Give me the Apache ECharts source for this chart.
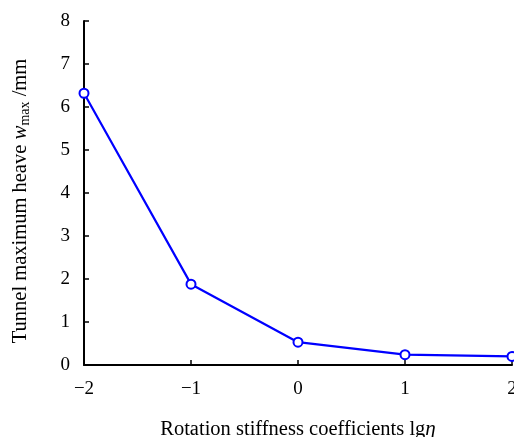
<!DOCTYPE html>
<html><head><meta charset="utf-8">
<script src="https://cdn.jsdelivr.net/npm/echarts@6/dist/echarts.min.js"></script>
<style>html,body{margin:0;padding:0;background:#fff}#c{width:514px;height:437px}</style>
</head><body><div id="c"></div>
<script>
var xValues = [-2, -1, 0, 1, 2];
var yValues = [6.32, 1.88, 0.53, 0.24, 0.20];
var xTicks = [-2, -1, 0, 1, 2];
var yTicks = [0, 1, 2, 3, 4, 5, 6, 7, 8];

var font = '"Liberation Serif", "Times New Roman", serif';
var chart = echarts.init(document.getElementById('c'));
chart.setOption({
  animation: false,
  grid: {left: 84, right: 2, top: 21, bottom: 72, containLabel: false, outerBoundsMode: 'none'},
  xAxis: {
    type: 'value', min: -2, max: 2, interval: 1,
    name: '{n|Rotation stiffness coefficients lg}{i|η}',
    nameLocation: 'middle', nameGap: 54,
    nameTextStyle: {rich: {
      n: {fontFamily: font, fontSize: 20.5, color: '#000'},
      i: {fontFamily: font, fontSize: 21, fontStyle: 'italic', color: '#000'}
    }},
    axisLine: {show: true, onZero: false, lineStyle: {color: '#000', width: 2}},
    axisTick: {show: true, inside: true, length: 5, lineStyle: {color: '#000', width: 1.5}},
    splitLine: {show: false},
    axisLabel: {fontFamily: font, fontSize: 19, color: '#000', margin: 15,
      formatter: function (v) { return v < 0 ? '\u2212' + (-v) : String(v); }}
  },
  yAxis: {
    type: 'value', min: 0, max: 8, interval: 1,
    name: '{n|Tunnel maximum heave }{i|w}{s|max}{n| /mm}',
    nameLocation: 'middle', nameGap: 52, nameRotate: 90,
    nameTextStyle: {padding: [0, 16, 0, 0], rich: {
      n: {fontFamily: font, fontSize: 20.5, color: '#000'},
      i: {fontFamily: font, fontSize: 21, fontStyle: 'italic', color: '#000'},
      s: {fontFamily: font, fontSize: 14, color: '#000', padding: [9, 0, 0, 0]}
    }},
    axisLine: {show: true, onZero: false, lineStyle: {color: '#000', width: 2}},
    axisTick: {show: true, inside: true, length: 5, lineStyle: {color: '#000', width: 1.5}},
    splitLine: {show: false},
    axisLabel: {fontFamily: font, fontSize: 19, color: '#000', margin: 14}
  },
  series: [{
    type: 'line',
    data: xValues.map(function (x, i) { return [x, yValues[i]]; }),
    symbol: 'emptyCircle', symbolSize: 9,
    lineStyle: {color: '#0000ff', width: 2.2},
    itemStyle: {color: '#0000ff', borderWidth: 2},
    clip: false
  }]
});
</script></body></html>
